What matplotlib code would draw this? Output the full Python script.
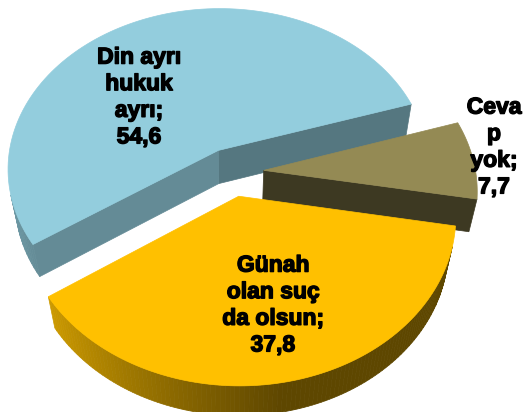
import numpy as np
import matplotlib.pyplot as plt
from matplotlib.patches import Polygon
from matplotlib.colors import to_rgb
import matplotlib.patheffects as pe

# slices, counter-clockwise from the start angle
categories = ["Cevap yok", "Din ayrı hukuk ayrı", "Günah olan suç da olsun"]
values = [7.7, 54.6, 37.8]
label_text = ["Ceva\np\nyok;\n7,7", "Din ayrı\nhukuk\nayrı;\n54,6", "Günah\nolan suç\nda olsun;\n37,8"]
top_colors = ["#948A54", "#93CDDD", "#FFC000"]
radial_k = [(0.41, 0.41), (0.58, 0.68), (0.5, 0.5)]  # shade of the cut faces
side_gain = [1.0, 0.85, 1.0]                          # shade of the rim
label_xy = [(494, 147), (139, 97), (273, 305)]        # label centres, px

start_deg = -10
explode = 0.15
thick = 0.25
elev = np.radians(50)
cam_d = 5.7
scale = 212          # px per unit radius
cx, cy = 232, 172    # pie centre, px
light = np.array([-0.958, 0.287, 0.0])

cam = np.array([0, -cam_d * np.cos(elev), cam_d * np.sin(elev)])


def proj(x, y, z):
    x, y, z = np.asarray(x, float), np.asarray(y, float), np.asarray(z, float)
    yv = y * np.sin(elev) + z * np.cos(elev)
    dep = y * np.cos(elev) - z * np.sin(elev)
    f = cam_d / (cam_d + dep)
    return np.column_stack([cx + scale * x * f, cy - scale * yv * f])


def visible(n, p):
    return np.dot(n, cam - p) > 0


def shade(col, k):
    return tuple(np.clip(np.array(to_rgb(col)) * k, 0, 1))


fig = plt.figure(figsize=(5.24, 4.12), dpi=100)
ax = fig.add_axes([0, 0, 1, 1])
ax.set_xlim(0, 524)
ax.set_ylim(412, 0)
ax.axis("off")

fracs = np.array(values) / sum(values)
edges = np.radians(start_deg + 360 * np.concatenate([[0], np.cumsum(fracs)]))
mids = (edges[:-1] + edges[1:]) / 2

# back slices first
order = np.argsort(-np.sin(mids))
for i in order:
    t0, t1 = edges[i], edges[i + 1]
    ox, oy = explode * np.cos(mids[i]), explode * np.sin(mids[i])
    col = top_colors[i]
    ts = np.linspace(t0, t1, 120)

    # cut faces
    for t, n, k in [(t0, np.array([np.sin(t0), -np.cos(t0), 0]), radial_k[i][0]),
                    (t1, np.array([-np.sin(t1), np.cos(t1), 0]), radial_k[i][1])]:
        p = np.array([ox + 0.5 * np.cos(t), oy + 0.5 * np.sin(t), -thick / 2])
        if visible(n, p):
            xs = [ox, ox + np.cos(t), ox + np.cos(t), ox]
            ys = [oy, oy + np.sin(t), oy + np.sin(t), oy]
            zs = [0, 0, -thick, -thick]
            c = shade(col, k)
            ax.add_patch(Polygon(proj(xs, ys, zs), closed=True, fc=c, ec=c, lw=0.5))

    # outer curved side
    for a, b in zip(ts[:-1], ts[1:]):
        m = (a + b) / 2
        n = np.array([np.cos(m), np.sin(m), 0])
        p = np.array([ox + np.cos(m), oy + np.sin(m), -thick / 2])
        if not visible(n, p):
            continue
        k = max(0.37, 0.55 + 0.4 * np.dot(n, light)) * side_gain[i]
        c = shade(col, k)
        xs = [ox + np.cos(a), ox + np.cos(b), ox + np.cos(b), ox + np.cos(a)]
        ys = [oy + np.sin(a), oy + np.sin(b), oy + np.sin(b), oy + np.sin(a)]
        zs = [0, 0, -thick, -thick]
        ax.add_patch(Polygon(proj(xs, ys, zs), closed=True, fc=c, ec=c, lw=0.5))

    # top face
    xs = np.concatenate([[ox], ox + np.cos(ts)])
    ys = np.concatenate([[oy], oy + np.sin(ts)])
    ax.add_patch(Polygon(proj(xs, ys, np.zeros_like(xs)), closed=True,
                         fc=col, ec=col, lw=0.5))

for i in range(len(values)):
    ax.text(label_xy[i][0], label_xy[i][1], label_text[i], ha="center", va="center",
            fontsize=16.5, fontweight="bold", family="Liberation Sans",
            linespacing=1.2, color="black",
            path_effects=[pe.withStroke(linewidth=1.0, foreground="black")])

fig.savefig("out.png", dpi=100)
